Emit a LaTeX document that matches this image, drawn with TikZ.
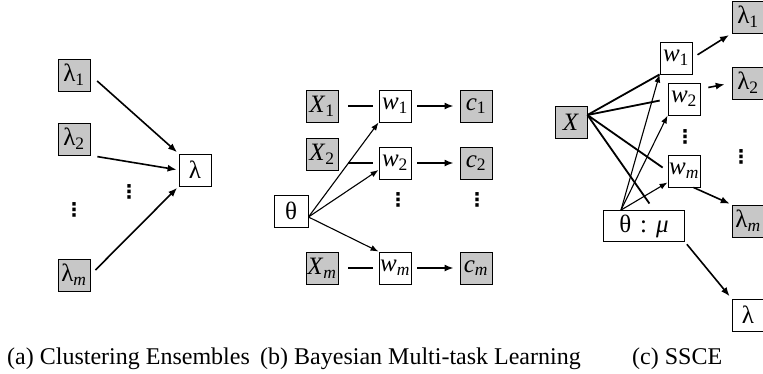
\documentclass[tikz,border=0pt]{standalone}
\usepackage{fontspec}
\setmainfont{Liberation Serif}
\newfontfamily\dotsfont{DejaVu Sans}
\usetikzlibrary{arrows.meta}
\newcommand{\lblsize}{\fontsize{25}{25}\selectfont}
\newcommand{\capsize}{\fontsize{24}{24}\selectfont}
\newcommand{\obsgray}{black!22}
\newcommand{\vd}{{\dotsfont\bfseries ⋮}}
\tikzset{
  var/.style={draw, line width=0.9pt, minimum width=32pt, minimum height=32pt, inner sep=0pt, font=\lblsize},
  obs/.style={var, fill=\obsgray},
  dep/.style={line width=1.6pt, ->},
  link/.style={line width=1.8pt},
  prior/.style={line width=1.1pt, -{Latex[length=8pt,width=6pt]}},
  vdot/.style={inner sep=0pt, font=\fontsize{19}{19}\selectfont},
  caption/.style={anchor=base west, inner sep=0pt, font=\capsize}
}

\begin{document}
\begin{tikzpicture}[x=1pt, y=-1pt, >={Latex[length=9pt,width=7pt]}]
\useasboundingbox (0,0) rectangle (763,373);
%(a)
\node[obs] (a1) at (74,75) {λ\textsubscript{1}};
\node[obs] (a2) at (74,139) {λ\textsubscript{2}};
\node[obs] (am) at (74,275) {λ\textsubscript{\textit{m}}};
\node[var] (al) at (195,170) {λ};
\node[vdot] (ad1) at (74,210) {\vd};
\node[vdot] (ad2) at (129,192) {\vd};
\draw[dep, shorten <=9pt, shorten >=2pt] (a1.east) -- (al.north west);
\draw[dep, shorten <=7pt, shorten >=2pt] (a2.south east) -- (al.west);
\draw[dep, shorten <=7pt, shorten >=2pt] (am.east) -- (al.south west);
%(b)
\node[obs] (x1) at (322,106) {\textit{X}\textsubscript{1}};
\node[obs] (x2) at (322,154) {\textit{X}\textsubscript{2}};
\node[obs] (xm) at (322,268) {\textit{X}\textsubscript{\textit{m}}};
\node[var] (w1) at (395,106) {\textit{w}\textsubscript{1}};
\node[var] (w2) at (395,163) {\textit{w}\textsubscript{2}};
\node[var] (wm) at (395,268) {\textit{w}\textsubscript{\textit{m}}};
\node[obs] (c1) at (476,106) {\textit{c}\textsubscript{1}};
\node[obs] (c2) at (476,163) {\textit{c}\textsubscript{2}};
\node[obs] (cm) at (476,268) {\textit{c}\textsubscript{\textit{m}}};
\node[var, minimum width=34pt] (th) at (291,211) {θ};
\node[vdot] (bd1) at (398,200) {\vd};
\node[vdot] (bd2) at (477,200) {\vd};
\draw[link, shorten <=10pt, shorten >=6pt] (x1) -- (w1);
\draw[link, shorten <=10pt, shorten >=6pt] (x2.east |- w2.west) -- (w2.west);
\draw[link, shorten <=10pt, shorten >=6pt] (xm) -- (wm);
\draw[dep, shorten <=6pt, shorten >=6pt] (w1) -- (c1);
\draw[dep, shorten <=6pt, shorten >=6pt] (w2) -- (c2);
\draw[dep, shorten <=6pt, shorten >=6pt] (wm) -- (cm);
\coordinate (tho) at ([yshift=-6pt]th.east);
\draw[prior] (tho) -- (w1.south west);
\draw[prior] (tho) -- ([yshift=-7pt]w2.west);
\draw[prior] (tho) -- (wm.north west);
%(c)
\node[obs] (x) at (571,122) {\textit{X}};
\node[var] (v1) at (676,58) {\textit{w}\textsubscript{1}};
\node[var] (v2) at (684,99) {\textit{w}\textsubscript{2}};
\node[var] (vm) at (684,171) {\textit{w}\textsubscript{\textit{m}}};
\node[obs] (l1) at (748,17) {λ\textsubscript{1}};
\node[obs] (l2) at (748,83) {λ\textsubscript{2}};
\node[obs] (lm) at (748,221) {λ\textsubscript{\textit{m}}};
\node[var] (l) at (748,315) {λ};
\node[var, minimum width=81pt, minimum height=31pt] (tm) at (644,226) {θ\hspace{9pt}:\hspace{9pt}\textit{μ}};
\node[vdot] (cd1) at (685,137) {\vd};
\node[vdot] (cd2) at (741,157) {\vd};
\coordinate (xo) at ([yshift=7pt]x.east);
\coordinate (tmo) at ([xshift=-23pt]tm.north);
\draw[link] (xo) -- (v1.south west);
\draw[link, shorten >=8pt] (xo) -- (v2.west);
\draw[link, shorten >=6pt] (xo) -- (vm.west);
\draw[link, shorten >=8pt] (xo) -- ([xshift=10pt]tm.north);
\draw[prior] (tmo) -- (v1.south west);
\draw[prior] (tmo) -- (v2.south west);
\draw[prior] (tmo) -- ([yshift=5pt]vm.south west);
\draw[dep, shorten <=6pt, shorten >=3pt] (v1.east) -- (l1.south west);
\draw[dep, shorten <=8pt, shorten >=7pt] ([yshift=10pt]v2.east) -- (l2.west);
\draw[dep, shorten >=2pt] ([xshift=-7pt]vm.south east) -- (lm.north west);
\draw[dep, shorten <=3pt, shorten >=3pt] (tm.south east) -- (l.north west);
%captions
\node[caption] (capa) at (7,364) {(a) Clustering Ensembles};
\node[caption] (capb) at (260,364) {(b) Bayesian Multi-task Learning};
\node[caption] (capc) at (632,364) {(c) SSCE};
\end{tikzpicture}
\end{document}
